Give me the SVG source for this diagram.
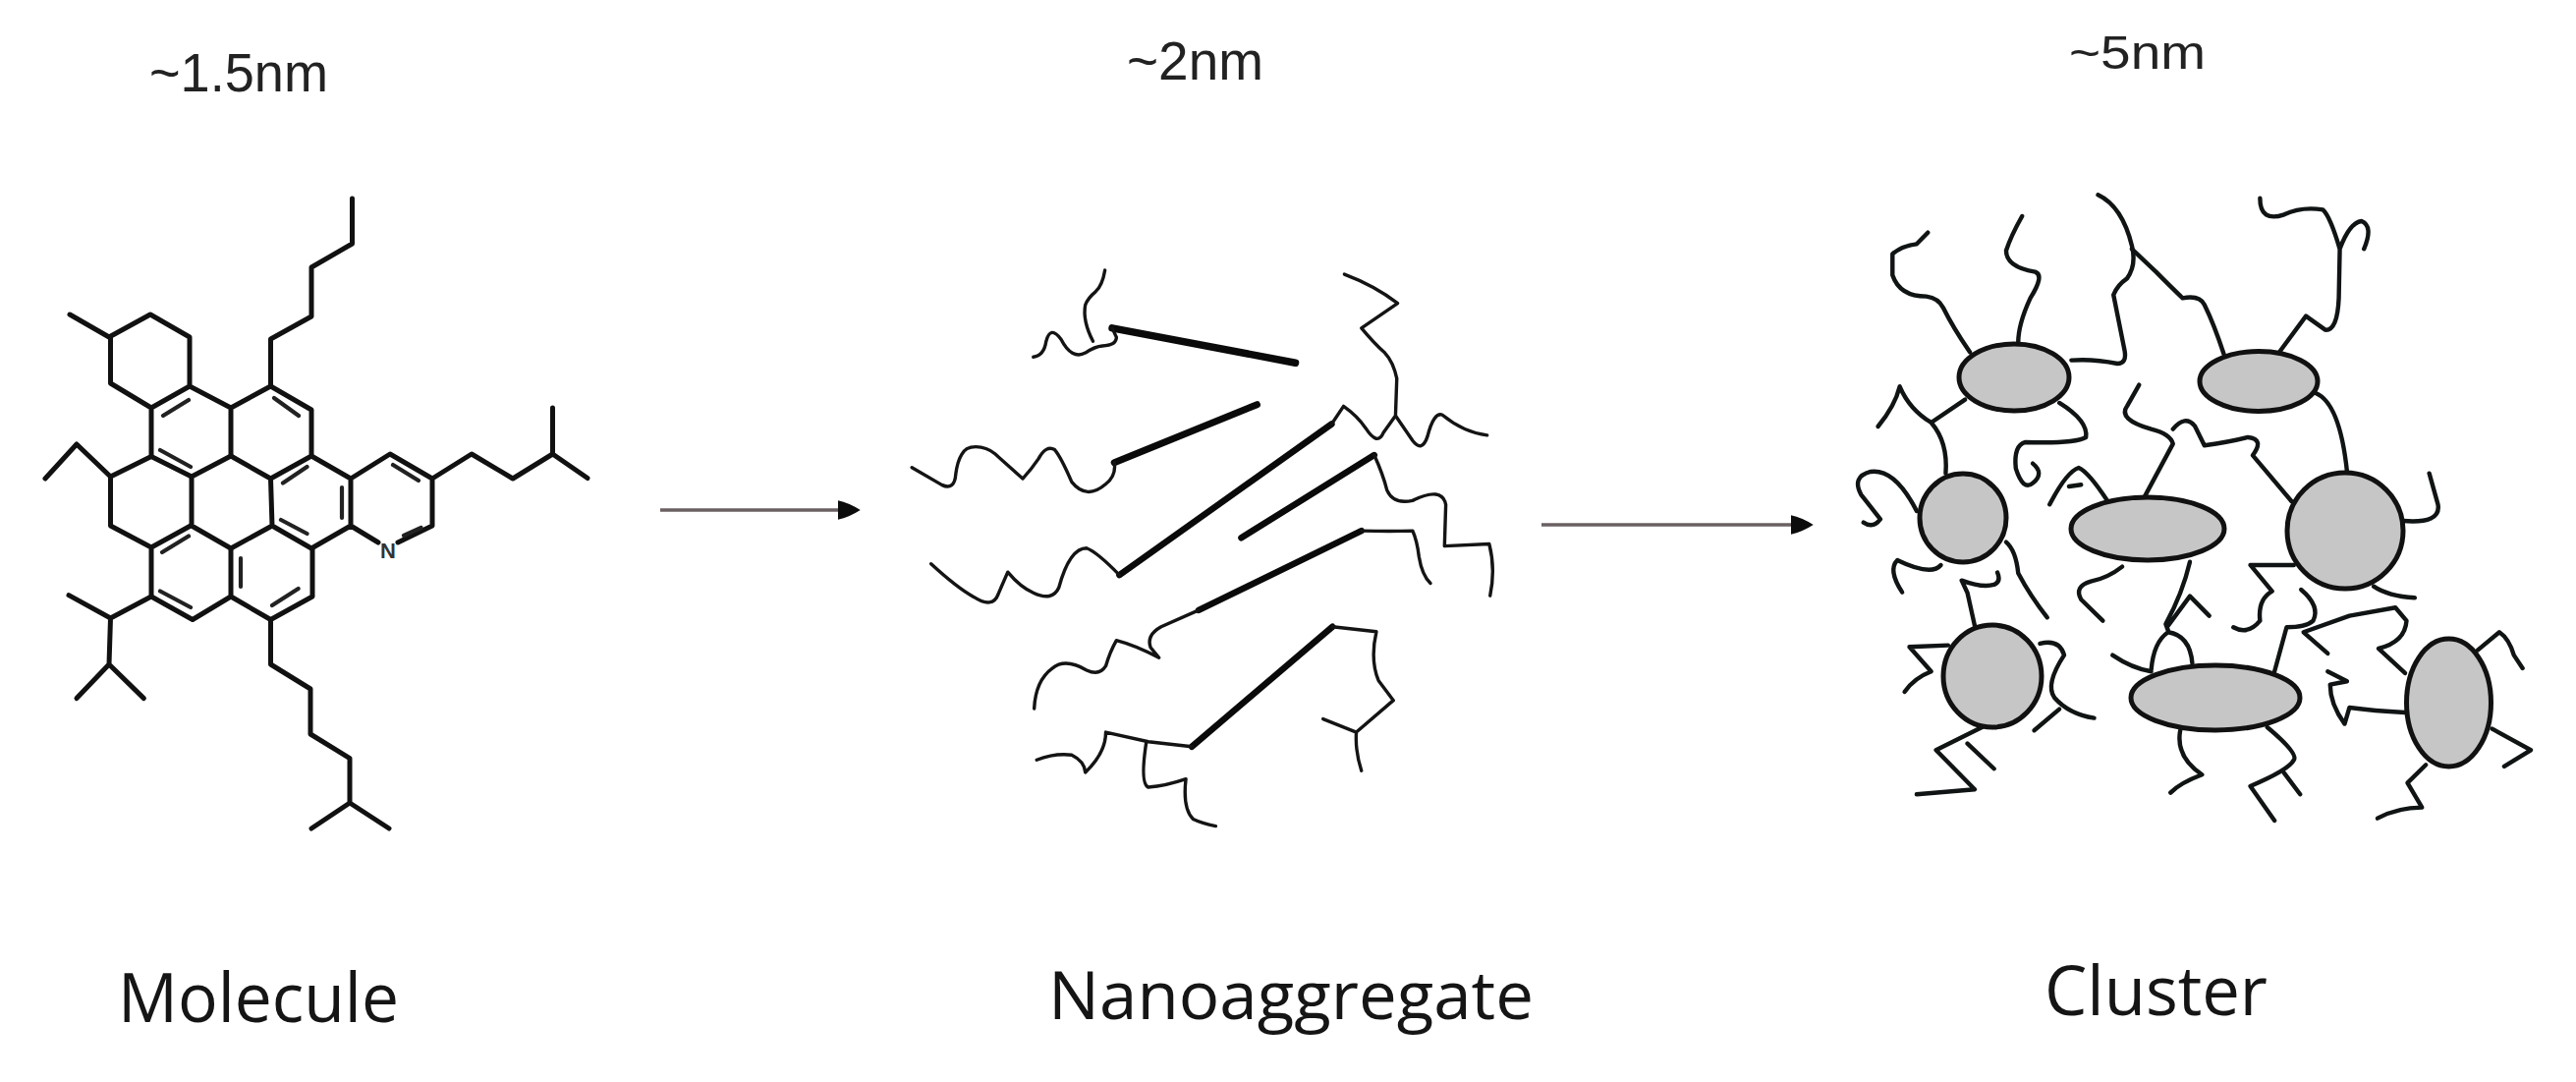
<svg xmlns="http://www.w3.org/2000/svg" width="2622" height="1101" viewBox="0 0 2622 1101">
<style>
.bond{fill:none;stroke:#111;stroke-width:5;stroke-linecap:round;stroke-linejoin:round}
.dbl{fill:none;stroke:#222;stroke-width:4.2;stroke-linecap:round}
.bar{fill:none;stroke:#0a0a0a;stroke-linecap:round;vector-effect:non-scaling-stroke}
.wig{fill:none;stroke:#141414;stroke-width:3.4;stroke-linecap:round;stroke-linejoin:round;vector-effect:non-scaling-stroke}
.tail{fill:none;stroke:#101414;stroke-width:4.4;stroke-linecap:round;stroke-linejoin:round;vector-effect:non-scaling-stroke}
.core{fill:#c6c6c6;stroke:#111;stroke-width:5}
.size{font-family:"Liberation Sans",Arial,sans-serif;font-size:55px;fill:#222}
.name{font-family:"Open Sans","Noto Sans",sans-serif;font-size:70px;fill:#151515}
.arrow{fill:none;stroke:#6a6062;stroke-width:3.4}
</style>
<defs>
<marker id="head" markerUnits="userSpaceOnUse" markerWidth="24" markerHeight="24" refX="2" refY="10" orient="auto" viewBox="0 0 22 20"><path d="M0 1 Q10 3 21 10 Q10 17 0 19 Z" fill="#0c0c0c"/></marker>
</defs>
<rect width="2622" height="1101" fill="#fff"/>

<g id="molecule">
<path class="bond" d="M358.5 202V248L317 272V322L275.5 345V393L317 417V464L275.5 487L235 464L195 485V535L235 558L277 535L275.5 487M317 464L357 487V535L317 558L277 535M357 487L397 462L440 487V535L405 552M357 535L385 552M440 487L480 462L522 487L562.5 462V415M562.5 462L598 486.5"/>
<path class="bond" d="M71 320L111 343L153 320L193 343V393L154 415L112.5 390V343M193 393L235 415V464M154 415V464.5L195 485M154 464.5L112.5 485V535L154 557V607L196 630.5L235 607V558M154 557L194 535M235 607L275.5 630.5L318 607V558M275.5 630.5V676L316 701V747L356 771.6V817L317 843M356 817L396 843M193 393L154 415M112.5 485L78 452L46 487M235 415L275.5 393"/>
<path class="bond" d="M154 607L112.5 629L70 605.6M112.5 629L111 676L78 710.6M111 676L146.4 710.6"/>
<path class="dbl" d="M166 423L192 407M279 405L304 423M163 458L194 475M288 491.5L312.5 475M348 496V527M400 473L426 489M411 545L428.6 537M286 529L312.5 543M165 562L192 545.5M245 568V597M277 616L303.6 599M163 601.5L194 618"/>
<text x="395" y="568" font-family="Liberation Sans,sans-serif" font-size="22" font-weight="bold" fill="#333" text-anchor="middle">N</text>
<text class="size" x="152" y="93" textLength="182" lengthAdjust="spacingAndGlyphs">~1.5nm</text>
<text class="name" x="120" y="1040" textLength="286" lengthAdjust="spacingAndGlyphs">Molecule</text>
</g>

<g id="nanoaggregate">
<g transform="translate(900 200) scale(.4337 .4209)">
<path class="bar" style="stroke-width:7.5" d="M535 318L965 402"/>
<path class="bar" style="stroke-width:7" d="M540 643L875 503"/>
<path class="bar" style="stroke-width:6.5" d="M552 915L1050 550"/>
<path class="bar" style="stroke-width:6.5" d="M838 825L1150 625"/>
<path class="bar" style="stroke-width:6.5" d="M738 1000L1120 808"/>
<path class="bar" style="stroke-width:6.5" d="M722 1330L1052 1040"/>
<path class="wig" d="M518 178Q512 215 496 230Q478 245 472 262Q465 300 490 350M350 388Q375 385 380 350Q390 310 415 345Q440 395 472 378Q495 362 512 361Q545 360 545 340L535 318"/>
<path class="wig" d="M65 655L135 697Q165 712 168 670Q172 640 181 625Q190 605 215 605Q240 605 260 622L325 682Q345 660 362 634Q380 600 400 612Q415 630 440 690Q475 735 520 695Q545 675 540 643"/>
<path class="wig" d="M110 888Q170 945 210 968Q255 998 268 960L290 908Q320 945 350 958Q395 980 410 945Q435 850 475 850Q500 860 552 915"/>
<path class="wig" d="M1080 188Q1150 215 1205 258L1120 318Q1150 355 1175 378Q1195 400 1203 440L1200 530M1050 550L1078 507Q1110 530 1130 560Q1158 605 1172 570L1200 530L1240 590Q1262 620 1275 580Q1290 520 1310 528Q1360 570 1415 577"/>
<path class="wig" d="M1150 625Q1170 670 1180 710Q1195 745 1240 735Q1310 700 1318 745L1315 845L1420 840Q1435 900 1422 965"/>
<path class="wig" d="M1120 808Q1190 810 1240 808Q1250 830 1255 870Q1262 915 1282 935"/>
<path class="wig" d="M738 1000L650 1040Q615 1060 625 1090L645 1115Q590 1085 545 1073Q530 1100 520 1135Q505 1160 475 1145Q425 1115 395 1140Q355 1170 352 1238"/>
<path class="wig" d="M1052 1040L1155 1052Q1140 1120 1160 1170L1195 1218L1108 1295L1030 1263M1108 1295Q1105 1340 1120 1388"/>
<path class="wig" d="M722 1330L620 1318L520 1295Q520 1345 472 1392Q470 1365 440 1350Q400 1345 358 1362M615 1320Q600 1420 620 1428Q660 1425 708 1408Q700 1480 725 1505Q745 1515 778 1522"/>
</g>
<text class="size" x="1147" y="81" textLength="139" lengthAdjust="spacingAndGlyphs">~2nm</text>
<text class="name" x="1067" y="1037" style="font-size:68px" textLength="494" lengthAdjust="spacingAndGlyphs">Nanoaggregate</text>
</g>

<g id="cluster">
<g transform="translate(1850 170) scale(.4922 .3333)">
<path class="tail" d="M315 565Q280 490 260 430Q250 400 225 395Q170 395 155 330L155 265Q175 240 205 235L228 200"/>
<path class="tail" d="M415 535Q415 480 440 400Q470 330 450 320Q390 305 390 255Q400 210 423 150"/>
<path class="tail" d="M525 590Q570 585 620 600Q640 600 635 560L612 390Q620 360 640 340Q660 300 650 240Q630 120 580 85"/>
<path class="tail" d="M650 250L700 320Q730 365 755 400Q790 390 800 420Q820 480 840 570"/>
<path class="tail" d="M955 565L1010 455L1050 497Q1075 500 1078 400L1080 250Q1060 150 1045 130Q1000 120 965 145Q915 170 915 95M1080 250Q1100 170 1125 165Q1150 180 1130 250"/>
<path class="tail" d="M305 710L235 780Q190 740 170 670Q160 730 125 792M235 780Q270 840 265 935"/>
<path class="tail" d="M500 720Q560 775 555 825Q530 845 430 840Q405 850 410 920Q425 990 445 965Q470 935 445 905"/>
<path class="tail" d="M205 1050Q160 920 110 930Q70 945 90 1000L130 1075Q115 1105 95 1085"/>
<path class="tail" d="M390 1145Q410 1170 415 1240Q440 1310 475 1375"/>
<path class="tail" d="M255 1215Q235 1250 165 1200Q145 1230 175 1298"/>
<path class="tail" d="M325 1400L310 1300L298 1262Q340 1285 365 1275Q380 1265 372 1238"/>
<path class="tail" d="M675 1010L735 845Q730 815 690 800Q620 770 640 730L665 665"/>
<path class="tail" d="M735 800Q760 755 780 790L800 850Q850 840 890 825Q925 830 900 880L980 1020"/>
<path class="tail" d="M600 1020Q560 930 540 918Q515 930 480 1030M520 975L545 970"/>
<path class="tail" d="M1030 690Q1080 720 1095 930"/>
<path class="tail" d="M1210 1080Q1290 1090 1283 1030L1265 935"/>
<path class="tail" d="M985 1215L895 1215L940 1295Q910 1320 915 1385Q890 1430 860 1405"/>
<path class="tail" d="M1150 1280Q1180 1310 1235 1315"/>
<path class="tail" d="M1000 1290Q1040 1340 1025 1385Q1010 1405 970 1405L945 1540"/>
<path class="tail" d="M630 1220Q600 1255 565 1265Q530 1280 545 1320L590 1385"/>
<path class="tail" d="M770 1205Q755 1300 720 1395L725 1415M725 1400L770 1310L810 1370"/>
<path class="tail" d="M690 1535Q695 1450 725 1420Q770 1430 775 1515M610 1490Q650 1530 690 1540"/>
<path class="tail" d="M270 1460L190 1465L235 1540Q200 1560 180 1602"/>
<path class="tail" d="M460 1455Q500 1440 510 1490Q470 1580 490 1620Q520 1670 572 1682M500 1655L448 1720"/>
<path class="tail" d="M340 1710L245 1780L325 1900L205 1915M310 1760L365 1837"/>
<path class="tail" d="M750 1720Q740 1800 795 1855Q750 1880 730 1910"/>
<path class="tail" d="M930 1710Q995 1790 985 1810Q975 1840 895 1890L945 1995M965 1850L998 1915"/>
<path class="tail" d="M1215 1545L1160 1470Q1215 1450 1218 1385L1195 1345L1100 1370L1005 1420L1055 1485"/>
<path class="tail" d="M1365 1475L1410 1420Q1430 1440 1440 1490L1458 1530"/>
<path class="tail" d="M1215 1665Q1150 1660 1100 1650L1090 1700Q1060 1640 1060 1580L1095 1570L1055 1540"/>
<path class="tail" d="M1395 1715L1475 1780L1420 1830"/>
<path class="tail" d="M1258 1825L1220 1880L1250 1955Q1200 1955 1158 1988"/>
</g>
<ellipse class="core" cx="2050" cy="384" rx="56" ry="34"/>
<ellipse class="core" cx="2299" cy="388" rx="60" ry="30.5"/>
<ellipse class="core" cx="1998" cy="527" rx="44" ry="45"/>
<ellipse class="core" cx="2186" cy="538" rx="78" ry="32"/>
<ellipse class="core" cx="2387" cy="540" rx="59" ry="59"/>
<ellipse class="core" cx="2028" cy="688" rx="50" ry="52"/>
<ellipse class="core" cx="2255" cy="710" rx="86" ry="33"/>
<ellipse class="core" cx="2492.5" cy="715" rx="43" ry="65"/>
<text class="size" x="2106" y="70" style="font-size:48px" textLength="139" lengthAdjust="spacingAndGlyphs">~5nm</text>
<text class="name" x="2081" y="1033" textLength="227" lengthAdjust="spacingAndGlyphs">Cluster</text>
</g>

<g id="connectors">
<path class="arrow" d="M672 519H855" marker-end="url(#head)"/>
<path class="arrow" d="M1569 534H1825" marker-end="url(#head)"/>
</g>
</svg>
